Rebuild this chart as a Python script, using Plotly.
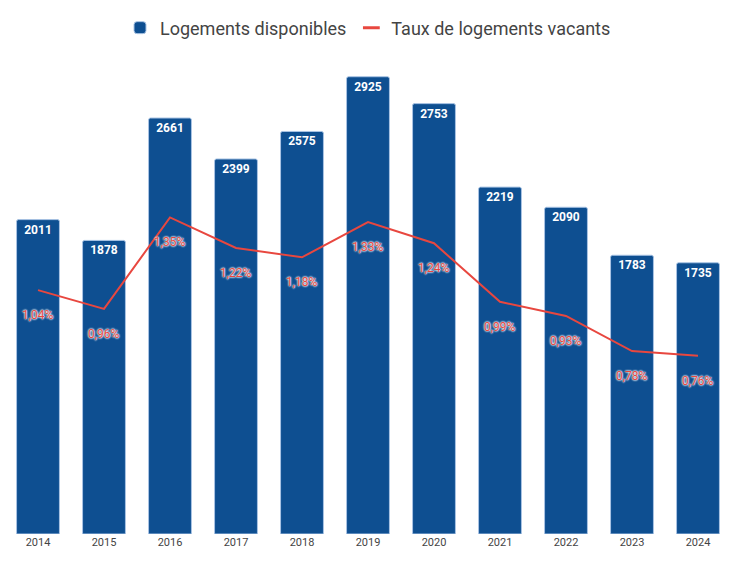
import plotly.graph_objects as go

years = ["2014", "2015", "2016", "2017", "2018", "2019", "2020", "2021", "2022", "2023", "2024"]
logements = [2011, 1878, 2661, 2399, 2575, 2925, 2753, 2219, 2090, 1783, 1735]
taux = [1.04, 0.96, 1.35, 1.22, 1.18, 1.33, 1.24, 0.99, 0.93, 0.78, 0.76]

BLUE = "#0e4f91"
RED = "#e8473f"
FONT = "Roboto, Arial, sans-serif"

taux_labels = [f"{v:.2f}".replace(".", ",") + "%" for v in taux]

fig = go.Figure()
fig.add_trace(go.Bar(
    x=years, y=logements, name="Logements disponibles",
    marker=dict(color=BLUE, line=dict(color="#a9c4e4", width=1), cornerradius=2),
    text=[str(v) for v in logements], textposition="inside", insidetextanchor="end",
    textfont=dict(color="white", size=12, family=FONT, weight="bold"),
    textangle=0, showlegend=True, hoverinfo="x+y",
))
fig.add_trace(go.Scatter(
    x=years, y=taux, name="Taux de logements vacants", yaxis="y2",
    mode="lines", line=dict(color=RED, width=2), showlegend=False,
))
# legend entry with short red dash
fig.add_trace(go.Scatter(
    x=[years[0]], y=[None], name="Taux de logements vacants", yaxis="y2",
    mode="markers", marker=dict(symbol="line-ew-open", size=12, color=RED,
                                line=dict(color=RED, width=3)),
))

shadow = "0 0 2px #fff, 0 0 2px #fff, 0 0 2px #fff"
for i, (yv, lab) in enumerate(zip(taux, taux_labels)):
    fig.add_annotation(x=i, y=yv, xref="x", yref="y2", text=lab, showarrow=False,
                       yshift=-25, font=dict(color=RED, size=12, family=FONT, shadow=shadow))

fig.update_layout(
    width=736, height=565,
    margin=dict(l=5, r=5, t=65, b=31, autoexpand=False),
    paper_bgcolor="white", plot_bgcolor="white",
    bargap=0.35,
    font=dict(family=FONT, color="#444"),
    xaxis=dict(type="category", categoryorder="array", categoryarray=years,
               range=[-0.5, len(years) - 0.5], automargin=False,
               showgrid=False, showline=False, ticks="", tickfont=dict(size=11, color="#444")),
    yaxis=dict(visible=False, range=[0, 3000]),
    yaxis2=dict(visible=False, range=[0, 2], overlaying="y", side="right"),
    legend=dict(orientation="h", x=0.5, xanchor="center", y=1.079, yanchor="middle",
                font=dict(size=18, color="#444"), itemwidth=30),
)

fig.write_html("out.html", config={"displayModeBar": False},
               post_script="document.body.style.margin='0';")
